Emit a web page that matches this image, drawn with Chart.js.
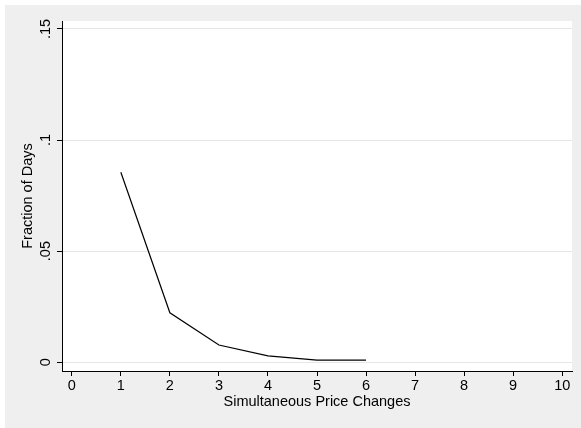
<!DOCTYPE html>
<html>
<head>
<meta charset="utf-8">
<script src="https://cdn.jsdelivr.net/npm/chart.js@4"></script>
<style>
  html, body { margin: 0; padding: 0; background: #fff; }
  #wrap { width: 581px; height: 428px; }
</style>
</head>
<body>
<div id="wrap"><canvas id="c" width="581" height="428"></canvas></div>
<script>
const xValues = [1, 2, 3, 4, 5, 6];
const fractions = [0.0855, 0.0222, 0.0077, 0.0028, 0.0009, 0.0009];
const xTicks = [0, 1, 2, 3, 4, 5, 6, 7, 8, 9, 10];
const yTicks = [0, 0.05, 0.1, 0.15];
const yTickLabels = ['0', '.05', '.1', '.15'];
const xTitle = 'Simultaneous Price Changes';
const yTitle = 'Fraction of Days';

const FONT = "'Liberation Sans', Arial, Helvetica, sans-serif";

// stata-ish frame: gray background, rotated y labels and titles
const stataFrame = {
  id: 'stataFrame',
  beforeDraw(chart) {
    const { ctx, chartArea } = chart;
    ctx.save();
    ctx.fillStyle = '#efefef';
    ctx.fillRect(5, 5, chart.width - 5, chart.height - 5);
    ctx.fillStyle = '#fff';
    ctx.fillRect(chartArea.left, chartArea.top, chartArea.right - chartArea.left, chartArea.bottom - chartArea.top);
    ctx.restore();
  },
  afterDraw(chart) {
    const { ctx, chartArea } = chart;
    const y = chart.scales.y;
    ctx.save();
    ctx.fillStyle = '#000';
    ctx.font = '14.5px ' + FONT;
    ctx.textAlign = 'center';
    ctx.textBaseline = 'middle';
    yTicks.forEach((v, i) => {
      const py = y.getPixelForValue(v);
      ctx.save();
      ctx.translate(46, py);
      ctx.rotate(-Math.PI / 2);
      ctx.fillText(yTickLabels[i], 0, 0);
      ctx.restore();
    });
    ctx.save();
    ctx.translate(28, (chartArea.top + chartArea.bottom) / 2);
    ctx.rotate(-Math.PI / 2);
    ctx.fillText(yTitle, 0, 0);
    ctx.restore();
    ctx.fillText(xTitle, (chartArea.left + chartArea.right) / 2, 402);
    ctx.restore();
  }
};

new Chart(document.getElementById('c'), {
  type: 'line',
  data: {
    datasets: [{
      data: xValues.map((x, i) => ({ x, y: fractions[i] })),
      borderColor: '#000',
      borderWidth: 1.2,
      pointRadius: 0,
      tension: 0,
      fill: false
    }]
  },
  options: {
    responsive: false,
    animation: false,
    devicePixelRatio: 1,
    layout: { padding: { top: 21, right: 9, left: 0, bottom: 0 } },
    plugins: { legend: { display: false }, tooltip: { enabled: false } },
    scales: {
      x: {
        type: 'linear',
        min: -0.2,
        max: 10.2,
        afterBuildTicks: s => { s.ticks = xTicks.map(v => ({ value: v })); },
        afterFit: s => { s.height = 57; },
        border: { display: true, color: '#000', width: 1 },
        grid: { drawOnChartArea: false, drawTicks: true, tickLength: 5, tickColor: '#000' },
        ticks: { color: '#000', font: { family: FONT, size: 14.5 }, padding: 1, maxRotation: 0, autoSkip: false }
      },
      y: {
        type: 'linear',
        min: -0.004,
        max: 0.1536,
        afterBuildTicks: s => { s.ticks = yTicks.map(v => ({ value: v })); },
        afterFit: s => { s.width = 62; },
        border: { display: true, color: '#000', width: 1 },
        grid: { color: '#e6e6e6', lineWidth: 1, drawTicks: true, tickLength: 5, tickColor: '#000' },
        ticks: { display: false }
      }
    }
  },
  plugins: [stataFrame]
});
</script>
</body>
</html>
